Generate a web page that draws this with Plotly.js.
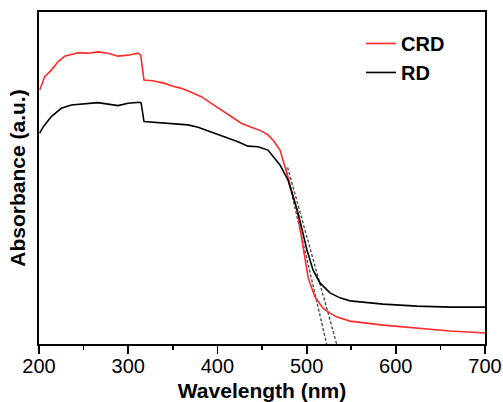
<!DOCTYPE html>
<html>
<head>
<meta charset="utf-8">
<script src="https://cdn.plot.ly/plotly-3.0.1.min.js"></script>
<style>
  html, body { margin: 0; padding: 0; background: #ffffff; }
  #chart { width: 503px; height: 402px; }
</style>
</head>
<body>
<div id="chart"></div>
<script>
// Wavelength (nm) and absorbance (a.u.)
var crdWavelength = [200.8, 206.4, 213.8, 221.3, 228.8, 236.2, 243.7, 254.9, 266.1, 277.4, 288.6, 299.8, 311.0, 314.0, 317.7, 327.8, 340.9, 348.3, 359.5, 370.7, 382.0, 393.2, 404.4, 415.6, 426.8, 438.0, 449.2, 456.7, 463.0, 470.2, 475.8, 479.1, 489.2, 496.0, 501.6, 503.8, 509.4, 518.4, 526.2, 534.1, 548.7, 585.7, 623.8, 660.8, 700];
var crdAbsorbance = [0.765, 0.805, 0.825, 0.850, 0.867, 0.873, 0.877, 0.876, 0.880, 0.876, 0.867, 0.870, 0.876, 0.870, 0.795, 0.793, 0.785, 0.778, 0.770, 0.758, 0.745, 0.725, 0.705, 0.685, 0.665, 0.653, 0.642, 0.630, 0.612, 0.584, 0.534, 0.503, 0.404, 0.292, 0.202, 0.183, 0.142, 0.108, 0.093, 0.081, 0.069, 0.057, 0.048, 0.039, 0.033];

var rdWavelength = [200.8, 204.5, 213.8, 225.0, 236.2, 247.4, 266.1, 288.6, 299.8, 312.9, 314.5, 317.7, 333.4, 348.3, 367.0, 378.3, 393.2, 408.2, 423.1, 434.3, 445.5, 456.7, 462.0, 470.2, 479.1, 490.4, 500.4, 507.2, 515.0, 526.2, 537.4, 548.7, 585.7, 623.8, 660.8, 700];
var rdAbsorbance = [0.635, 0.653, 0.685, 0.710, 0.720, 0.723, 0.727, 0.718, 0.725, 0.728, 0.726, 0.670, 0.667, 0.663, 0.660, 0.653, 0.639, 0.624, 0.609, 0.596, 0.594, 0.584, 0.565, 0.539, 0.494, 0.395, 0.283, 0.223, 0.184, 0.154, 0.139, 0.130, 0.120, 0.114, 0.111, 0.111];

// Tangent (band-edge) extrapolation lines
var tangentCrdWavelength = [476.4, 522.5];
var tangentCrdAbsorbance = [0.532, 0.0];
var tangentRdWavelength = [478.7, 533.7];
var tangentRdAbsorbance = [0.532, 0.0];

var seriesNames = ['CRD', 'RD'];
var tickValues = [200, 300, 400, 500, 600, 700];
var tickLabels = ['200', '300', '400', '500', '600', '700'];

var font = 'Arial, "Liberation Sans", Helvetica, sans-serif';

var traces = [
  {x: tangentCrdWavelength, y: tangentCrdAbsorbance, mode: 'lines', showlegend: false, hoverinfo: 'skip',
   line: {color: '#444444', width: 1.3, dash: '3px,2px'}},
  {x: tangentRdWavelength, y: tangentRdAbsorbance, mode: 'lines', showlegend: false, hoverinfo: 'skip',
   line: {color: '#444444', width: 1.3, dash: '3px,2px'}},
  {x: crdWavelength, y: crdAbsorbance, mode: 'lines', name: seriesNames[0],
   line: {color: '#ff2a2a', width: 1.6}},
  {x: rdWavelength, y: rdAbsorbance, mode: 'lines', name: seriesNames[1],
   line: {color: '#000000', width: 1.6}}
];

var layout = {
  width: 503, height: 402,
  margin: {l: 39, r: 18, t: 12, b: 58},
  paper_bgcolor: '#ffffff', plot_bgcolor: '#ffffff',
  font: {family: font, color: '#000000'},
  showlegend: true,
  legend: {
    x: 0.722, y: 0.964, xanchor: 'left', yanchor: 'top',
    bgcolor: 'rgba(0,0,0,0)', borderwidth: 0,
    font: {family: font, size: 20, color: '#000000', weight: 'bold'},
    itemwidth: 30, tracegroupgap: 0
  },
  xaxis: {
    range: [200, 700],
    tickmode: 'array', tickvals: tickValues, ticktext: tickLabels,
    ticks: 'outside', ticklen: 8, tickwidth: 1.8, tickcolor: '#000000',
    ticklabelstandoff: -5,
    minor: {dtick: 50, ticks: 'outside', ticklen: 4, tickwidth: 1.5, tickcolor: '#000000'},
    tickfont: {family: font, size: 20, color: '#000000'},
    showline: true, linewidth: 2, linecolor: '#000000', mirror: true,
    showgrid: false, zeroline: false,
    title: {text: 'Wavelength (nm)', standoff: 12,
            font: {family: font, size: 21, color: '#000000', weight: 'bold'}}
  },
  yaxis: {
    range: [0, 1],
    showticklabels: false, ticks: '',
    showline: true, linewidth: 2, linecolor: '#000000', mirror: true,
    showgrid: false, zeroline: false,
    title: {text: 'Absorbance (a.u.)', standoff: 6,
            font: {family: font, size: 21, color: '#000000', weight: 'bold'}}
  }
};

Plotly.newPlot('chart', traces, layout, {displayModeBar: false, staticPlot: true});
</script>
</body>
</html>
